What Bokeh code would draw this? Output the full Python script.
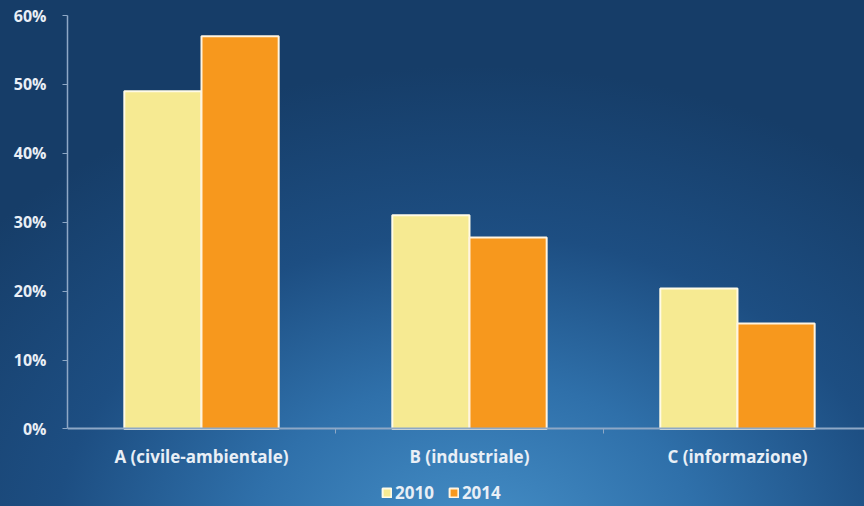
from bokeh.plotting import figure
from bokeh.models import Range1d, FixedTicker, Legend, LegendItem, ColumnDataSource, NumeralTickFormatter
from bokeh.transform import dodge
from bokeh.embed import file_html
from bokeh.resources import INLINE

categories = ["A (civile-ambientale)", "B (industriale)", "C (informazione)"]
series_names = ["2010", "2014"]
values_2010 = [0.49, 0.31, 0.204]
values_2014 = [0.57, 0.278, 0.153]
y_ticks = [0, 0.1, 0.2, 0.3, 0.4, 0.5, 0.6]

centers = [i + 0.5 for i in range(len(categories))]
src = ColumnDataSource(dict(x=centers, v2010=values_2010, v2014=values_2014))

FONT = "Open Sans"
TXT = "#e9eff6"
AX = "#8ea8c6"

p = figure(width=864, height=506, output_backend="svg", toolbar_location=None,
           x_range=Range1d(0, 2.974), y_range=Range1d(-0.1125, 0.6),
           min_border_left=67, min_border_right=0, min_border_top=15, min_border_bottom=0)
p.styles = {"background-image": "radial-gradient(ellipse 75% 95% at 55% 108%, #4690c8 0%, #2f70aa 35%, #1d4e82 65%, #163d68 100%)"}
p.background_fill_alpha = 0
p.border_fill_alpha = 0
p.outline_line_color = None
p.grid.visible = False

bw = 0.288
r1 = p.vbar(x=dodge("x", -bw / 2, range=p.x_range), top="v2010", width=bw, source=src,
            fill_color="#f6ea92", line_color="#fffbe6", line_width=2)
r2 = p.vbar(x=dodge("x", bw / 2, range=p.x_range), top="v2014", width=bw, source=src,
            fill_color="#f7981d", line_color="#fff4e0", line_width=2)

# y axis
ya = p.yaxis[0]
ya.ticker = FixedTicker(ticks=y_ticks)
ya.bounds = (0, 0.6)
ya.formatter = NumeralTickFormatter(format="0%")
ya.axis_line_color = AX
ya.axis_line_width = 1.5
ya.major_tick_line_color = AX
ya.major_tick_out = 5
ya.major_tick_in = 0
ya.minor_tick_line_color = None
ya.major_label_text_color = TXT
ya.major_label_text_font = FONT
ya.major_label_text_font_style = "bold"
ya.major_label_text_font_size = "16px"
ya.major_label_standoff = 16

# x axis, placed at y = 0
xa = p.xaxis[0]
xa.fixed_location = 0
xa.ticker = FixedTicker(ticks=centers, minor_ticks=[1, 2])
xa.major_label_overrides = {c: name for c, name in zip(centers, categories)}
xa.axis_line_color = AX
xa.axis_line_width = 2
xa.major_tick_line_color = None
xa.minor_tick_line_color = AX
xa.minor_tick_out = 5
xa.minor_tick_in = 0
xa.major_label_text_color = TXT
xa.major_label_text_font = FONT
xa.major_label_text_font_style = "bold"
xa.major_label_text_font_size = "17px"
xa.major_label_standoff = 10

legend = Legend(items=[LegendItem(label=series_names[0], renderers=[r1]),
                       LegendItem(label=series_names[1], renderers=[r2])],
                orientation="horizontal", location=(314, 2),
                background_fill_alpha=0, border_line_color=None,
                label_text_color=TXT, label_text_font=FONT, label_text_font_style="bold",
                label_text_font_size="17px", glyph_width=11, glyph_height=11,
                spacing=14, label_standoff=3, padding=0, margin=0)
p.add_layout(legend, "center")

open("out.html", "w").write(file_html(p, INLINE))
